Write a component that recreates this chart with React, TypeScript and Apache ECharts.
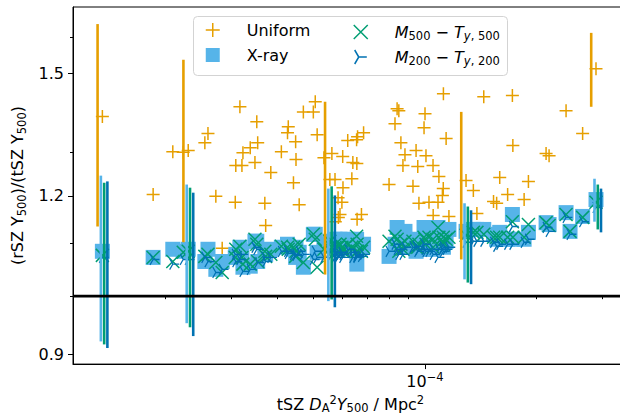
import { useEffect, useRef } from "react";
import * as echarts from "echarts";

// tSZ D_A^2 Y500 / Mpc^2 (shared by all samples)
const tszY500 = [
  1.35e-5, 1.85e-5, 2.09e-5, 2.23e-5, 2.3e-5, 2.55e-5, 2.6e-5, 2.73e-5, 2.84e-5, 3.08e-5,
  3.09e-5, 3.17e-5, 3.21e-5, 3.23e-5, 3.38e-5, 3.48e-5, 3.52e-5, 3.54e-5, 3.7e-5, 3.72e-5,
  3.84e-5, 4.1e-5, 4.26e-5, 4.28e-5, 4.42e-5, 4.48e-5, 4.49e-5, 4.58e-5, 4.7e-5, 5.0e-5,
  5.06e-5, 5.12e-5, 5.34e-5, 5.54e-5, 5.61e-5, 5.72e-5, 5.73e-5, 5.83e-5, 5.84e-5, 5.9e-5,
  5.97e-5, 6.0e-5, 6.01e-5, 6.19e-5, 6.35e-5, 6.39e-5, 6.54e-5, 6.55e-5, 6.56e-5, 6.58e-5,
  6.74e-5, 6.83e-5, 8.0e-5, 8.3e-5, 8.41e-5, 8.5e-5, 8.61e-5, 8.72e-5, 8.83e-5, 9.28e-5,
  9.46e-5, 9.56e-5, 9.63e-5, 9.94e-5, 1.0e-4, 1.006e-4, 1.025e-4, 1.051e-4, 1.052e-4, 1.084e-4,
  1.09e-4, 1.114e-4, 1.12e-4, 1.121e-4, 1.14e-4, 1.16e-4,
  1.29e-4, 1.35e-4, 1.38e-4, 1.44e-4, 1.53e-4, 1.56e-4, 1.59e-4, 1.67e-4, 1.72e-4, 1.725e-4,
  1.85e-4, 1.9e-4, 2.12e-4, 2.16e-4, 2.4e-4, 2.46e-4, 2.66e-4, 2.89e-4,
];

const uniformRatio: (number | null)[] = [
  1.386, 1.203, 1.3, 1.299, 1.303, 1.322, 1.344, 1.199, 1.091, 1.186,
  1.268, 1.411, 1.268, 1.298, 1.31, 1.275, 1.373, 1.322, 1.184, 1.137,
  1.252, 1.3, 1.346, 1.361, 1.229, 1.324, 1.282, 1.181, 1.398, 1.398,
  1.424, 1.341, 1.286, 1.236, 1.296, 1.236, 1.145, 1.196, 1.154, 1.16,
  1.186, 1.289, 1.218, 1.327, 1.238, 1.275, 1.329, 1.273, 1.15, 1.336,
  1.16, 1.346, 1.225, 1.368, 1.406, 1.401, 1.322, 1.268, 1.293, 1.221,
  1.303, 1.266, 1.184, 1.358, 1.393, 1.291, 1.186, 1.268, 1.158, 1.186,
  1.243, 1.201, 1.216, 1.445, 1.332, 1.156,
  1.234, 1.212, 1.162, 1.437, 1.188, 1.184, 1.241, 1.203, 1.44, 1.315,
  1.192, 1.232, 1.296, 1.291, 1.401, null, 1.344, 1.512,
];

const xrayRatio = [
  1.085, 1.073, 1.089, 1.085, 1.089, 1.065, 1.089, 1.05, 1.065, 1.073,
  1.079, 1.093, 1.085, 1.054, 1.056, 1.105, 1.105, 1.065, 1.085, 1.079,
  1.089, 1.093, 1.099, 1.095, 1.089, 1.073, 1.093, 1.083, 1.054, 1.119,
  1.119, 1.083, 1.099, 1.105, 1.099, 1.109, 1.093, 1.105, 1.089, 1.109,
  1.105, 1.093, 1.099, 1.109, 1.103, 1.093, 1.109, 1.06, 1.089, 1.093,
  1.093, 1.099, 1.075, 1.099, 1.133, 1.099, 1.109, 1.093, 1.125, 1.099,
  1.085, 1.089, 1.109, 1.133, 1.099, 1.089, 1.109, 1.099, 1.089, 1.133,
  1.109, 1.099, 1.105, 1.093, 1.105, 1.129,
  1.125, 1.129, 1.129, 1.129, 1.119, 1.109, 1.123, 1.109, 1.16, 1.109,
  1.109, 1.123, 1.143, 1.139, 1.164, 1.125, 1.156, 1.192,
];

const m500Ratio = [
  1.077, 1.073, 1.065, 1.083, 1.085, 1.075, 1.079, 1.063, 1.044, 1.073,
  1.089, 1.095, 1.073, 1.06, 1.06, 1.109, 1.099, 1.065, 1.085, 1.075,
  1.079, 1.095, 1.093, 1.089, 1.093, 1.075, 1.085, 1.099, 1.063, 1.119,
  1.109, 1.054, 1.089, 1.105, 1.093, 1.093, 1.099, 1.093, 1.085, 1.099,
  1.093, 1.089, 1.085, 1.099, 1.093, 1.089, 1.115, 1.085, 1.099, 1.085,
  1.085, 1.093, 1.105, 1.115, 1.109, 1.085, 1.099, 1.089, 1.105, 1.105,
  1.093, 1.093, 1.099, 1.113, 1.109, 1.099, 1.113, 1.109, 1.093, 1.133,
  1.113, 1.105, 1.113, 1.099, 1.109, 1.113,
  1.117, 1.123, 1.123, 1.119, 1.113, 1.113, 1.113, 1.113, 1.145, 1.113,
  1.113, 1.139, 1.143, 1.137, 1.16, 1.125, 1.154, 1.186,
];

const m200Ratio = [
  1.073, 1.069, 1.06, 1.069, 1.069, 1.073, 1.065, 1.044, 1.05, 1.079,
  1.065, 1.069, 1.079, 1.046, 1.05, 1.093, 1.089, 1.063, 1.073, 1.065,
  1.073, 1.085, 1.085, 1.081, 1.079, 1.079, 1.077, 1.085, 1.079, 1.069,
  1.085, 1.073, 1.073, 1.085, 1.079, 1.073, 1.083, 1.073, 1.077, 1.079,
  1.083, 1.073, 1.079, 1.089, 1.083, 1.073, 1.075, 1.073, 1.079, 1.077,
  1.075, 1.079, 1.085, 1.099, 1.089, 1.079, 1.089, 1.079, 1.093, 1.093,
  1.095, 1.085, 1.089, 1.099, 1.089, 1.085, 1.085, 1.089, 1.079, 1.073,
  1.089, 1.089, 1.093, 1.085, 1.089, 1.093,
  1.103, 1.105, 1.105, 1.105, 1.103, 1.095, 1.099, 1.099, 1.135, 1.099,
  1.103, 1.109, 1.133, 1.125, 1.154, 1.119, 1.145, 1.175,
];

// error bars on five clusters
const errX = [1.35e-5, 2.3e-5, 5.54e-5, 1.29e-4, 2.89e-4];
const uniformLow = [1.135, 1.103, 1.04, 1.069, 1.411];
const uniformHigh = [1.64, 1.537, 1.424, 1.398, 1.614];
const xrayLow = [0.921, 0.952, 0.991, 1.031, 1.145];
const xrayHigh = [1.245, 1.225, 1.216, 1.184, 1.238];
const m500Low = [0.916, 0.945, 0.994, 1.025, 1.129];
const m500High = [1.229, 1.218, 1.221, 1.177, 1.225];
const m200Low = [0.91, 0.93, 0.98, 1.022, 1.123];
const m200High = [1.232, 1.207, 1.201, 1.169, 1.216];

const xRange = [1.125e-5, 3.525e-4];
const yRange = [0.8838, 1.6917];
const xTicksMajor = [1e-4];
const xTicksMinor = [2e-5, 3e-5, 4e-5, 5e-5, 6e-5, 7e-5, 8e-5, 9e-5, 2e-4, 3e-4];
const yTicksMajor = [0.9, 1.2, 1.5];
const yTicksMinor = [1.0, 1.1, 1.3, 1.6];
const unity = 1.0;

const ORANGE = "#E69F00";
const SKY = "#56B4E9";
const GREEN = "#009E73";
const BLUE = "#0072B2";
const FONT = "DejaVu Sans";

const PLUS = "path://M0,-1L0,1M-1,0L1,0";
const CROSS = "path://M-1,-1L1,1M-1,1L1,-1";
const TRI = "path://M0,0L1,0M0,0L-0.5,-0.866M0,0L-0.5,0.866";
const SQUARE = "path://M0,0L1,0L1,1L0,1Z";

const lx = (v: number) => Math.log10(v);
const ly = (v: number) => Math.log(v);

const NAME_U = "Uniform";
const NAME_X = "X-ray";
const NAME_5 = "M500 - Ty,500";
const NAME_2 = "M200 - Ty,200";

function points(ys: (number | null)[]) {
  const out: number[][] = [];
  tszY500.forEach((x, i) => {
    const y = ys[i];
    if (y != null) out.push([lx(x), ly(y)]);
  });
  return out;
}

function errSeries(name: string, lo: number[], hi: number[], color: string, off: number) {
  return {
    type: "custom",
    name,
    silent: true,
    z: 6,
    data: errX.map((x, i) => [lx(x), ly(lo[i]), ly(hi[i])]),
    encode: { x: 0, y: [1, 2] },
    renderItem: (_p: any, api: any) => {
      const a = api.coord([api.value(0), api.value(1)]);
      const b = api.coord([api.value(0), api.value(2)]);
      return {
        type: "line",
        shape: { x1: a[0] + off, y1: a[1], x2: b[0] + off, y2: b[1] },
        style: { stroke: color, lineWidth: 2.6 },
      };
    },
  };
}

const subStyle = { fontFamily: FONT, fontSize: 11.5, color: "#000", verticalAlign: "bottom", lineHeight: 10 };
const richText = {
  n: { fontFamily: FONT, fontSize: 16, color: "#000", lineHeight: 20 },
  i: { fontFamily: FONT, fontSize: 16, color: "#000", fontStyle: "italic", lineHeight: 20 },
  s: subStyle,
  si: { ...subStyle, fontStyle: "italic" },
  sup: { fontFamily: FONT, fontSize: 11.5, color: "#000", verticalAlign: "top", lineHeight: 8 },
};

function legendFormatter(name: string) {
  if (name === NAME_5) return "{i|M}{s|500}{n| − }{i|T}{si|y}{s|, 500}";
  if (name === NAME_2) return "{i|M}{s|200}{n| − }{i|T}{si|y}{s|, 200}";
  return "{n|" + name + "}";
}

export default function App() {
  const ref = useRef<HTMLDivElement>(null);
  useEffect(() => {
    if (!ref.current) return;
    const chart = echarts.init(ref.current, undefined, { renderer: "svg" });
    const legendText = { fontFamily: FONT, fontSize: 16, color: "#000", lineHeight: 20, rich: richText };
    const option: any = {
      animation: false,
      backgroundColor: "#fff",
      grid: { left: 73, top: 7, right: 12, bottom: 54, show: true, borderColor: "#000", borderWidth: 1 },
      graphic: [
        {
          type: "rect",
          left: 193,
          top: 16,
          z: 3,
          shape: { width: 314, height: 59, r: 4 },
          style: { fill: "rgba(255,255,255,0.85)", stroke: "#d3d3d3", lineWidth: 1 },
        },
      ],
      legend: [
        {
          orient: "vertical",
          left: 200,
          top: 15,
          itemWidth: 58,
          itemHeight: 14,
          itemGap: 5,
          selectedMode: false,
          formatter: legendFormatter,
          textStyle: legendText,
          data: [
            { name: NAME_U, icon: PLUS, itemStyle: { color: "transparent", borderColor: ORANGE, borderWidth: 1.5 } },
            { name: NAME_X, icon: SQUARE, itemStyle: { color: SKY, borderWidth: 0 } },
          ],
        },
        {
          orient: "vertical",
          left: 348,
          top: 17,
          itemWidth: 58,
          itemHeight: 14,
          itemGap: 5,
          selectedMode: false,
          formatter: legendFormatter,
          textStyle: legendText,
          data: [
            { name: NAME_5, icon: CROSS, itemStyle: { color: "transparent", borderColor: GREEN, borderWidth: 1.5 } },
            { name: NAME_2, icon: TRI, itemStyle: { color: "transparent", borderColor: BLUE, borderWidth: 1.5 } },
          ],
        },
      ],
      xAxis: [
        {
          type: "value",
          min: lx(xRange[0]),
          max: lx(xRange[1]),
          position: "bottom",
          splitLine: { show: false },
          axisLine: { show: true, onZero: false, lineStyle: { color: "#000", width: 1 } },
          axisTick: { show: true, customValues: xTicksMajor.map(lx), length: 5, lineStyle: { color: "#000", width: 1 } },
          axisLabel: {
            customValues: xTicksMajor.map(lx),
            margin: 7,
            formatter: (v: number) => {
              const e = Math.round(v);
              return "{b|10}{e|" + (e < 0 ? "−" : "") + Math.abs(e) + "}";
            },
            rich: {
              b: { fontFamily: FONT, fontSize: 16, color: "#000", lineHeight: 20 },
              e: { fontFamily: FONT, fontSize: 11.5, color: "#000", verticalAlign: "top", lineHeight: 8 },
            },
          },
          name: "{n|tSZ }{i|D}{s|A}{sup|2}{i|Y}{s|500}{n| / Mpc}{sup|2}",
          nameLocation: "middle",
          nameGap: 28,
          nameTextStyle: { rich: richText },
        },
        {
          type: "value",
          min: lx(xRange[0]),
          max: lx(xRange[1]),
          position: "bottom",
          splitLine: { show: false },
          axisLine: { show: false },
          axisTick: { show: true, customValues: xTicksMinor.map(lx), length: 3, lineStyle: { color: "#000", width: 1 } },
          axisLabel: { show: false },
        },
      ],
      yAxis: [
        {
          type: "value",
          min: ly(yRange[0]),
          max: ly(yRange[1]),
          position: "left",
          splitLine: { show: false },
          axisLine: { show: true, onZero: false, lineStyle: { color: "#000", width: 1 } },
          axisTick: { show: true, customValues: yTicksMajor.map(ly), length: 5, lineStyle: { color: "#000", width: 1 } },
          axisLabel: {
            customValues: yTicksMajor.map(ly),
            margin: 9,
            fontFamily: FONT,
            fontSize: 16,
            color: "#000",
            formatter: (v: number) => Math.exp(v).toFixed(1),
          },
          name: "{n|(rSZ Y}{s|500}{n|)/(tSZ Y}{s|500}{n|)}",
          nameLocation: "middle",
          nameGap: 45,
          nameTextStyle: { rich: richText },
        },
        {
          type: "value",
          min: ly(yRange[0]),
          max: ly(yRange[1]),
          position: "left",
          splitLine: { show: false },
          axisLine: { show: false },
          axisTick: { show: true, customValues: yTicksMinor.map(ly), length: 3, lineStyle: { color: "#000", width: 1 } },
          axisLabel: { show: false },
        },
      ],
      series: [
        {
          type: "scatter",
          name: NAME_U,
          data: points(uniformRatio),
          symbol: PLUS,
          symbolSize: 13,
          z: 2,
          itemStyle: { color: "transparent", borderColor: ORANGE, borderWidth: 1.5, opacity: 1 },
        },
        {
          type: "scatter",
          name: NAME_X,
          data: points(xrayRatio),
          symbol: SQUARE,
          symbolSize: 15,
          z: 3,
          itemStyle: { color: SKY, opacity: 1 },
        },
        {
          type: "scatter",
          name: NAME_5,
          data: points(m500Ratio),
          symbol: CROSS,
          symbolSize: 13,
          z: 4,
          itemStyle: { color: "transparent", borderColor: GREEN, borderWidth: 1.5, opacity: 1 },
        },
        {
          type: "scatter",
          name: NAME_2,
          data: points(m200Ratio),
          symbol: TRI,
          symbolSize: [9.5, 11],
          symbolOffset: [1.6, 0],
          z: 5,
          itemStyle: { color: "transparent", borderColor: BLUE, borderWidth: 1.3, opacity: 1 },
        },
        errSeries("uErr", uniformLow, uniformHigh, ORANGE, -4.8),
        errSeries("xErr", xrayLow, xrayHigh, SKY, -1.5),
        errSeries("m5Err", m500Low, m500High, GREEN, 1.8),
        errSeries("m2Err", m200Low, m200High, BLUE, 5),
        {
          type: "line",
          name: "unity",
          silent: true,
          z: 10,
          symbol: "none",
          data: [
            [lx(xRange[0]), ly(unity)],
            [lx(xRange[1]), ly(unity)],
          ],
          lineStyle: { color: "#000", width: 2.6 },
        },
      ],
    };
    chart.setOption(option);
    return () => chart.dispose();
  }, []);
  return (
    <div style={{ position: "fixed", left: 0, top: 0, width: 620, height: 419, overflow: "hidden", background: "#fff" }}>
      <div ref={ref} style={{ width: 640, height: 419 }} />
    </div>
  );
}
